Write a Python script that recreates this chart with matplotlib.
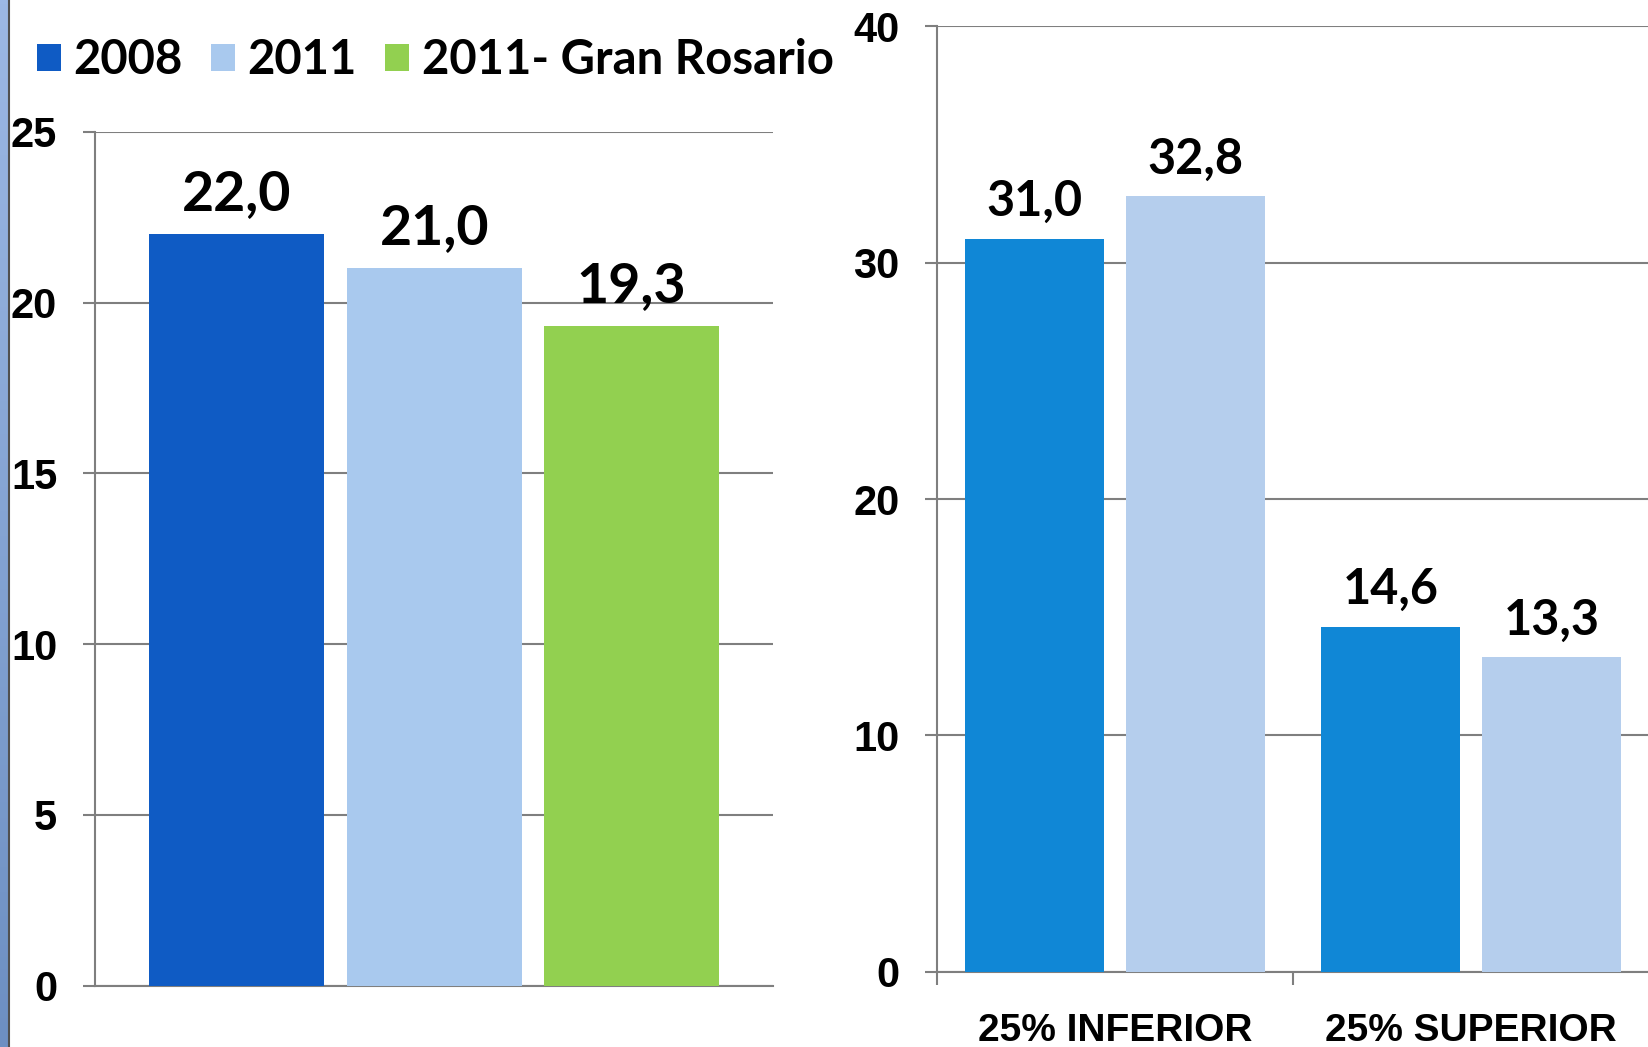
import numpy as np
import matplotlib
matplotlib.use('Agg')
import matplotlib.pyplot as plt
from matplotlib.patches import Patch

# left chart: one group, three series
left_series = ['2008', '2011', '2011- Gran Rosario']
left_values = [22.0, 21.0, 19.3]
left_colors = ['#0f5bc4', '#a9c9ee', '#92d050']
left_yticks = [0, 5, 10, 15, 20, 25]

# right chart: two groups, two series
right_cats = ['25% INFERIOR', '25% SUPERIOR']
right_2008 = [31.0, 14.6]
right_2011 = [32.8, 13.3]
right_colors = ['#1087d6', '#b5ceed']
right_yticks = [0, 10, 20, 30, 40]

W, H = 1649, 1047
fig = plt.figure(figsize=(W/100, H/100), dpi=100)
fig.patch.set_facecolor('white')

grid_c = '#7f7f7f'
tick_font = ['Liberation Sans', 'DejaVu Sans']
lab_font = ['Lato', 'DejaVu Sans']

def fmt(v):
    return ('%.1f' % v).replace('.', ',')

# blue stripe on the far left
sax = fig.add_axes([0, 0, 8/W, 1])
grad = np.linspace(0, 1, 256).reshape(-1, 1)
sax.imshow(grad, aspect='auto', cmap=matplotlib.colors.LinearSegmentedColormap.from_list('s', ['#9cb8e4', '#6d8fc2']))
sax.axis('off')
fig.add_artist(plt.Line2D([8.8/W, 8.8/W], [0, 1], color='#505050', lw=1.5, transform=fig.transFigure))

# ---- left chart
ax1 = fig.add_axes([94.7/W, 1-985.7/H, (773-94.7)/W, (985.7-131.7)/H])
xpos = np.arange(len(left_values)) * 1.1286
bars = ax1.bar(xpos, left_values, width=1.0, color=left_colors, zorder=3)
for x, v in zip(xpos, left_values):
    ax1.annotate(fmt(v), (x, v), xytext=(0, 17.4), textcoords='offset points',
                 ha='center', va='baseline', fontsize=40, fontweight='bold', family=lab_font)
ax1.set_xlim(-0.811, 3.065)
ax1.set_ylim(0, 25)
ax1.set_yticks(left_yticks)
ax1.set_yticklabels([str(t) for t in left_yticks], fontsize=30, fontweight='bold', family=tick_font)
ax1.set_xticks([])
ax1.yaxis.grid(True, color=grid_c, lw=1.5, zorder=0)
ax1.tick_params(axis='y', length=9, width=1.5, color=grid_c, pad=18)
for s in ['top', 'right']:
    ax1.spines[s].set_visible(False)
for s in ['left', 'bottom']:
    ax1.spines[s].set_color(grid_c)
    ax1.spines[s].set_linewidth(1.5)

handles = [Patch(facecolor=c, edgecolor='none') for c in left_colors]
fig.legend(handles, left_series, loc='center left', bbox_to_anchor=(37/W, 1-60/H),
           ncol=3, frameon=False, borderpad=0, borderaxespad=0,
           handlelength=0.5, handleheight=0.5, handletextpad=0.27, columnspacing=0.6,
           prop={'family': lab_font, 'weight': 'bold', 'size': 34})

# ---- right chart
ax2 = fig.add_axes([937/W, 1-971.8/H, (W-937)/W, (971.8-26.3)/H])
xc = np.arange(len(right_cats))
bw = 0.39
off = 0.2257
ax2.bar(xc-off, right_2008, width=bw, color=right_colors[0], zorder=3)
ax2.bar(xc+off, right_2011, width=bw, color=right_colors[1], zorder=3)
for x, v in zip(list(xc-off)+list(xc+off), right_2008+right_2011):
    ax2.annotate(fmt(v), (x, v), xytext=(0, 16.5), textcoords='offset points',
                 ha='center', va='baseline', fontsize=35, fontweight='bold', family=lab_font)
ax2.set_xlim(-0.5, 1.5)
ax2.set_ylim(0, 40)
ax2.set_yticks(right_yticks)
ax2.set_yticklabels([str(t) for t in right_yticks], fontsize=30, fontweight='bold', family=tick_font)
ax2.set_xticks([-0.5, 0.5], minor=False)
ax2.set_xticklabels(['', ''])
ax2.set_xticks(xc, minor=True)
ax2.set_xticklabels(right_cats, minor=True, fontsize=28, fontweight='bold', family=tick_font)
ax2.tick_params(axis='x', which='major', length=9, width=1.5, color=grid_c)
ax2.tick_params(axis='x', which='minor', length=0, pad=30)
ax2.yaxis.grid(True, color=grid_c, lw=1.5, zorder=0)
ax2.tick_params(axis='y', length=9, width=1.5, color=grid_c, pad=18)
for s in ['top', 'right']:
    ax2.spines[s].set_visible(False)
for s in ['left', 'bottom']:
    ax2.spines[s].set_color(grid_c)
    ax2.spines[s].set_linewidth(1.5)

fig.savefig('out.png', dpi=100)
